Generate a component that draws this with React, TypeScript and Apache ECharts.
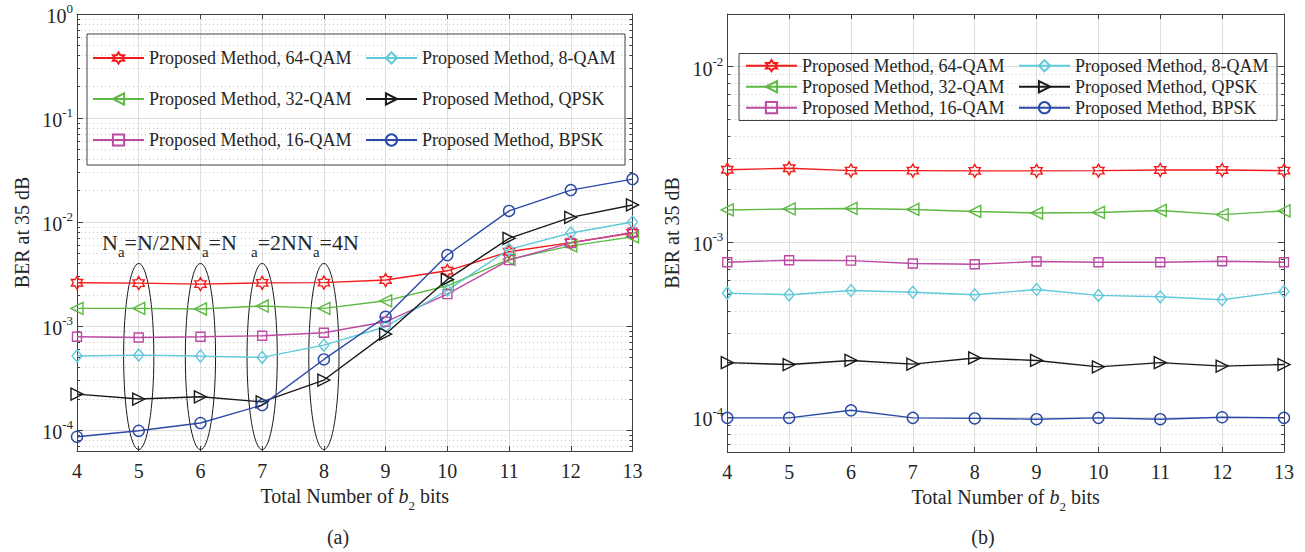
import React, { useEffect, useRef } from 'react';
import * as echarts from 'echarts';

// ---------- data ----------
const bits = [4, 5, 6, 7, 8, 9, 10, 11, 12, 13];
const seriesNames = [
  'Proposed Method, 64-QAM',
  'Proposed Method, 32-QAM',
  'Proposed Method, 16-QAM',
  'Proposed Method, 8-QAM',
  'Proposed Method, QPSK',
  'Proposed Method, BPSK',
];

// panel (a)
const berA_64QAM = [2.61e-3, 2.59e-3, 2.53e-3, 2.6e-3, 2.62e-3, 2.77e-3, 3.4e-3, 5.18e-3, 6.35e-3, 7.85e-3];
const berA_32QAM = [1.48e-3, 1.48e-3, 1.46e-3, 1.56e-3, 1.48e-3, 1.75e-3, 2.44e-3, 4.38e-3, 5.9e-3, 7.2e-3];
const berA_16QAM = [7.89e-4, 7.78e-4, 7.89e-4, 8.07e-4, 8.63e-4, 1.1e-3, 2.03e-3, 4.31e-3, 6.3e-3, 7.95e-3];
const berA_8QAM = [5.15e-4, 5.26e-4, 5.15e-4, 5.0e-4, 6.57e-4, 9.85e-4, 2.22e-3, 5.46e-3, 7.85e-3, 1.0e-2];
const berA_QPSK = [2.22e-4, 1.99e-4, 2.09e-4, 1.87e-4, 3.03e-4, 8.38e-4, 2.81e-3, 6.97e-3, 1.11e-2, 1.46e-2];
const berA_BPSK = [8.63e-5, 9.86e-5, 1.17e-4, 1.74e-4, 4.78e-4, 1.23e-3, 4.82e-3, 1.28e-2, 2.03e-2, 2.59e-2];

// panel (b)
const berB_64QAM = [2.58e-3, 2.63e-3, 2.55e-3, 2.55e-3, 2.54e-3, 2.54e-3, 2.55e-3, 2.57e-3, 2.57e-3, 2.55e-3];
const berB_32QAM = [1.52e-3, 1.54e-3, 1.55e-3, 1.53e-3, 1.49e-3, 1.46e-3, 1.47e-3, 1.51e-3, 1.43e-3, 1.5e-3];
const berB_16QAM = [7.64e-4, 7.85e-4, 7.81e-4, 7.51e-4, 7.44e-4, 7.71e-4, 7.64e-4, 7.64e-4, 7.74e-4, 7.64e-4];
const berB_8QAM = [5.09e-4, 4.98e-4, 5.27e-4, 5.15e-4, 4.98e-4, 5.34e-4, 4.94e-4, 4.85e-4, 4.67e-4, 5.2e-4];
const berB_QPSK = [2.04e-4, 1.99e-4, 2.1e-4, 2.0e-4, 2.17e-4, 2.1e-4, 1.93e-4, 2.04e-4, 1.95e-4, 1.99e-4];
const berB_BPSK = [9.87e-5, 9.87e-5, 1.09e-4, 9.87e-5, 9.8e-5, 9.7e-5, 9.87e-5, 9.7e-5, 9.95e-5, 9.87e-5];

const panelA = [berA_64QAM, berA_32QAM, berA_16QAM, berA_8QAM, berA_QPSK, berA_BPSK];
const panelB = [berB_64QAM, berB_32QAM, berB_16QAM, berB_8QAM, berB_QPSK, berB_BPSK];

// axis ranges
const yMinA = 6.3e-5;
const yMaxA = 1;
const yMinB = 6.3e-5;
const yMaxB = 2e-2;
const xMin = 4;
const xMax = 13;

// ellipse annotations (panel a)
const ellipseBits = [5, 6, 7, 8];
const ellipseTopBER = 4.0e-3;
const ellipseBottomBER = 6.5e-5;
const annotationTexts = ['N_a=N/2N', 'N_a=N', '_a=2N', 'N_a=4N'];

// ---------- styles ----------
const FONT = "'Liberation Serif', 'Times New Roman', serif";
const TXT = '#262626';
const AXIS = '#404040';
const colors = ['#F41A1A', '#5DB942', '#BD4AA3', '#60C9DB', '#1A1A1A', '#2A4AA6'];
const HEX =
  'path://M0,-10L2.887,-5L8.66,-5L5.774,0L8.66,5L2.887,5L0,10L-2.887,5L-8.66,5L-5.774,0L-8.66,-5L-2.887,-5Z';
const TRI_L = 'path://M0,5L10,0L10,10Z';
const TRI_R = 'path://M10,5L0,0L0,10Z';
const symbols = [HEX, TRI_L, 'rect', 'diamond', TRI_R, 'circle'];
const symbolSizes: any[] = [13, 12, 9, [10, 12], 12, 11];

const annoX = [102, 186, 251, 297];

function powLabel(v: number) {
  const e = Math.log10(v);
  const r = Math.round(e);
  if (Math.abs(e - r) > 1e-6) return '';
  return `{b|10}{e|${r}}`;
}

const yLabelRich = {
  b: { fontFamily: FONT, fontSize: 20, color: TXT, lineHeight: 24, verticalAlign: 'bottom' },
  e: { fontFamily: FONT, fontSize: 13, color: TXT, lineHeight: 12, verticalAlign: 'top' },
};

function makeAxes(gridIndex: number, yMin: number, yMax: number) {
  const x = [
    {
      type: 'value',
      gridIndex,
      position: 'bottom',
      min: xMin,
      max: xMax,
      interval: 1,
      axisLine: { show: true, lineStyle: { color: AXIS, width: 1 } },
      axisTick: { show: true, inside: true, length: 5, lineStyle: { color: AXIS } },
      axisLabel: { fontFamily: FONT, fontSize: 20, color: TXT, margin: 10 },
      splitLine: { show: true, lineStyle: { color: '#dedede', width: 1 } },
      name: '{n|Total Number of }{i|b}{s|2}{n| bits}',
      nameLocation: 'middle',
      nameGap: 26,
      nameTextStyle: {
        fontFamily: FONT,
        fontSize: 20,
        color: TXT,
        rich: {
          n: { fontFamily: FONT, fontSize: 20, color: TXT, lineHeight: 26, verticalAlign: 'top' },
          i: { fontFamily: FONT, fontSize: 20, color: TXT, lineHeight: 26, verticalAlign: 'top', fontStyle: 'italic' },
          s: { fontFamily: FONT, fontSize: 13, color: TXT, lineHeight: 14, verticalAlign: 'bottom' },
        },
      },
    },
    {
      type: 'value',
      gridIndex,
      position: 'top',
      min: xMin,
      max: xMax,
      interval: 1,
      axisLine: { show: true, lineStyle: { color: AXIS, width: 1 } },
      axisTick: { show: true, inside: true, length: 5, lineStyle: { color: AXIS } },
      axisLabel: { show: false },
      splitLine: { show: false },
    },
  ];
  const y = [
    {
      type: 'log',
      logBase: 10,
      gridIndex,
      position: 'left',
      min: yMin,
      max: yMax,
      axisLine: { show: true, lineStyle: { color: AXIS, width: 1 } },
      axisTick: { show: true, inside: true, length: 6, lineStyle: { color: AXIS } },
      minorTick: { show: true, splitNumber: 9, length: 3, lineStyle: { color: AXIS } },
      axisLabel: { formatter: powLabel, rich: yLabelRich, margin: 4, showMinLabel: true, showMaxLabel: true },
      splitLine: { show: true, lineStyle: { color: '#dedede', width: 1 } },
      minorSplitLine: { show: true, lineStyle: { color: '#c4c4c4', width: 1, type: [1, 3] } },
      name: 'BER at 35 dB',
      nameLocation: 'middle',
      nameGap: 45,
      nameTextStyle: { fontFamily: FONT, fontSize: 20, color: TXT },
    },
    {
      type: 'log',
      logBase: 10,
      gridIndex,
      position: 'right',
      min: yMin,
      max: yMax,
      axisLine: { show: true, lineStyle: { color: AXIS, width: 1 } },
      axisTick: { show: true, inside: true, length: 6, lineStyle: { color: AXIS } },
      minorTick: { show: true, splitNumber: 9, length: 3, lineStyle: { color: AXIS } },
      axisLabel: { show: false },
      splitLine: { show: false },
      minorSplitLine: { show: false },
    },
  ];
  return { x, y };
}

function makeSeries(panel: number[][], axisIndex: number) {
  return panel.map((vals, i) => ({
    type: 'line',
    name: seriesNames[i],
    xAxisIndex: axisIndex,
    yAxisIndex: axisIndex,
    data: bits.map((b, k) => [b, vals[k]]),
    symbol: symbols[i],
    symbolSize: symbolSizes[i],
    symbolKeepAspect: true,
    showAllSymbol: true,
    color: colors[i],
    lineStyle: { color: colors[i], width: 1.4 },
    itemStyle: { color: 'rgba(255,255,255,0)', borderColor: colors[i], borderWidth: 1.4 },
    emphasis: { disabled: true },
    animation: false,
  }));
}

function annoRich(t: string) {
  const [pre, post] = t.split('_a');
  return `${pre ? `{n|${pre}}` : ''}{s|a}{n|${post}}`;
}

const annoRichStyle = {
  n: { fontFamily: FONT, fontSize: 22, lineHeight: 22, verticalAlign: 'top', fill: TXT, color: TXT },
  s: { fontFamily: FONT, fontSize: 15, lineHeight: 15, verticalAlign: 'top', padding: [13, 0, 0, 0], fill: TXT, color: TXT },
};

function buildOption() {
  const a = makeAxes(0, yMinA, yMaxA);
  const b = makeAxes(1, yMinB, yMaxB);
  const legendCommon = {
    orient: 'vertical',
    padding: 0,
    itemWidth: 51,
    itemHeight: 14,
    selectedMode: false,
    textStyle: { fontFamily: FONT, fontSize: 18, color: TXT, lineHeight: 20 },
  };
  return {
    animation: false,
    backgroundColor: '#ffffff',
    grid: [
      { left: 77, top: 14, width: 555.5, height: 437, outerBoundsMode: 'none', containLabel: false },
      { left: 727.3, top: 14, width: 556.7, height: 438, outerBoundsMode: 'none', containLabel: false },
    ],
    xAxis: [...a.x, ...b.x],
    yAxis: [...a.y, ...b.y],
    legend: [
      { ...legendCommon, left: 92, top: 48, itemGap: 21, data: seriesNames.slice(0, 3) },
      { ...legendCommon, left: 365, top: 48, itemGap: 21, data: seriesNames.slice(3, 6) },
      { ...legendCommon, left: 745, top: 55.7, itemGap: 1, data: seriesNames.slice(0, 3) },
      { ...legendCommon, left: 1018, top: 55.7, itemGap: 1, data: seriesNames.slice(3, 6) },
    ],
    series: [
      ...makeSeries(panelA, 0),
      ...makeSeries(panelB, 2),
      {
        type: 'custom',
        name: 'ellipses',
        xAxisIndex: 0,
        yAxisIndex: 0,
        silent: true,
        z: 3,
        data: ellipseBits.map((x) => [x, ellipseTopBER, ellipseBottomBER]),
        encode: { x: 0, y: [1, 2] },
        renderItem: (params: any, api: any) => {
          const xb = api.value(0);
          const p1 = api.coord([xb - 0.245, api.value(1)]);
          const p2 = api.coord([xb + 0.245, api.value(2)]);
          return {
            type: 'ellipse',
            shape: {
              cx: (p1[0] + p2[0]) / 2,
              cy: (p1[1] + p2[1]) / 2,
              rx: Math.abs(p2[0] - p1[0]) / 2,
              ry: Math.abs(p2[1] - p1[1]) / 2,
            },
            style: { fill: 'none', stroke: '#1a1a1a', lineWidth: 1 },
          };
        },
      },
    ],
    graphic: [
      {
        type: 'rect',
        shape: { x: 87, y: 34, width: 538, height: 131 },
        style: { fill: 'none', stroke: AXIS, lineWidth: 1 },
        z: 3,
        silent: true,
      },
      {
        type: 'rect',
        shape: { x: 739, y: 53.5, width: 538, height: 67 },
        style: { fill: 'none', stroke: AXIS, lineWidth: 1 },
        z: 3,
        silent: true,
      },
      ...annotationTexts.map((t, i) => ({
        type: 'text',
        x: annoX[i],
        y: 231,
        z: 5,
        silent: true,
        style: {
          text: annoRich(t),
          rich: annoRichStyle,
          fontFamily: FONT,
          fontSize: 22,
          fill: TXT,
          align: 'left',
          verticalAlign: 'top',
          textAlign: 'left',
          textVerticalAlign: 'top',
        },
      })),
      {
        type: 'text',
        x: 338,
        y: 537,
        silent: true,
        style: {
          text: '(a)',
          fontFamily: FONT,
          fontSize: 20,
          fill: TXT,
          align: 'center',
          verticalAlign: 'middle',
          textAlign: 'center',
          textVerticalAlign: 'middle',
        },
      },
      {
        type: 'text',
        x: 983,
        y: 537,
        silent: true,
        style: {
          text: '(b)',
          fontFamily: FONT,
          fontSize: 20,
          fill: TXT,
          align: 'center',
          verticalAlign: 'middle',
          textAlign: 'center',
          textVerticalAlign: 'middle',
        },
      },
    ],
  };
}

export default function App() {
  const ref = useRef<HTMLDivElement>(null);
  useEffect(() => {
    document.body.style.margin = '0';
    const chart = echarts.init(ref.current as HTMLDivElement, null, { renderer: 'svg' });
    chart.setOption(buildOption() as any);
    return () => chart.dispose();
  }, []);
  return <div ref={ref} style={{ width: 1305, height: 552, background: '#ffffff' }} />;
}
